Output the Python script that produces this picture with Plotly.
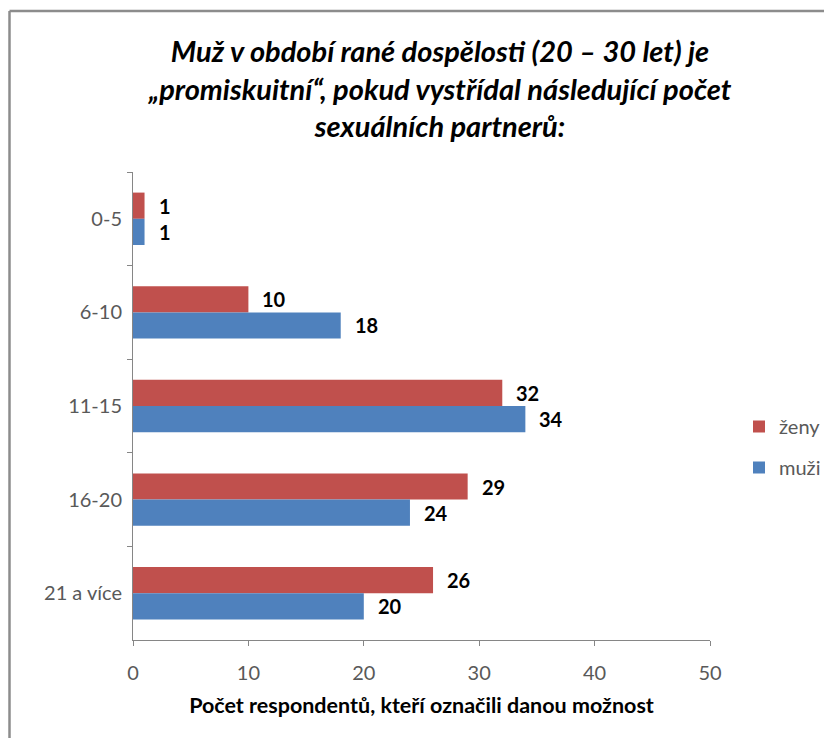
import plotly.graph_objects as go

# Data
CATEGORIES = ['0-5', '6-10', '11-15', '16-20', '21 a více']
ZENY = [1, 10, 32, 29, 26]
MUZI = [1, 18, 34, 24, 20]

RED = '#C0504D'
BLUE = '#4F81BD'
FONT = 'Lato'

# stránka má okraj 8 px, souřadnice jsou posunuté o 8 px
W, H = 832, 730
L, T, B = 125, 164, 98
R = W - 702
PW, PH = W - L - R, H - T - B


def px(x):
    return (x - L) / PW


def py(y):
    return (H - B - y) / PH


fig = go.Figure()
fig.add_trace(go.Bar(
    y=CATEGORIES, x=ZENY, name='ženy', orientation='h',
    marker=dict(color=RED, line=dict(width=0)), legendgroup='z'
))
fig.add_trace(go.Bar(
    y=CATEGORIES, x=MUZI, name='muži', orientation='h',
    marker=dict(color=BLUE, line=dict(width=0)), legendgroup='m'
))

# popisky hodnot
for cat, v in zip(CATEGORIES, ZENY):
    fig.add_annotation(x=v, y=cat, text=f'<b>{v}</b>', showarrow=False,
                       xanchor='left', yanchor='middle', xshift=12, yshift=13,
                       font=dict(family=FONT, size=20, color='#000000'))
for cat, v in zip(CATEGORIES, MUZI):
    fig.add_annotation(x=v, y=cat, text=f'<b>{v}</b>', showarrow=False,
                       xanchor='left', yanchor='middle', xshift=12, yshift=-13,
                       font=dict(family=FONT, size=20, color='#000000'))

# rámeček
fig.add_shape(type='line', xref='paper', yref='paper',
              x0=px(1.5), y0=py(H), x1=px(1.5), y1=py(3),
              line=dict(color='#8c8c8c', width=2.5))
fig.add_shape(type='line', xref='paper', yref='paper',
              x0=px(1.5), y0=py(3), x1=px(W), y1=py(3),
              line=dict(color='#8c8c8c', width=2.5))

fig.update_layout(
    title=dict(
        text='<b><i>Muž v období rané dospělosti (20 – 30 let) je<br>'
             '„promiskuitní“, pokud vystřídal následující počet<br>'
             'sexuálních partnerů:</i></b>',
        x=432 / W, xanchor='center', y=1 - 54 / H, yanchor='top',
        font=dict(family=FONT, size=29, color='#000000')
    ),
    barmode='group',
    bargap=0.44,
    bargroupgap=0,
    width=W, height=H,
    margin=dict(l=L, r=R, t=T, b=B),
    plot_bgcolor='white',
    paper_bgcolor='white',
    font=dict(family=FONT, size=20, color='#595959'),
    xaxis=dict(
        range=[0, 50], dtick=10, showgrid=False, zeroline=False,
        showline=True, linecolor='#868686', linewidth=1,
        ticks='outside', ticklen=5, tickcolor='#868686',
        ticklabelstandoff=10,
        tickfont=dict(family=FONT, size=20, color='#595959'),
        title=dict(text='<b>Počet respondentů, kteří označili danou možnost</b>',
                   font=dict(family=FONT, size=21.5, color='#000000'), standoff=14)
    ),
    yaxis=dict(
        autorange='reversed', showgrid=False,
        showline=True, linecolor='#868686', linewidth=1,
        ticks='outside', ticklen=5, tickcolor='#868686', tickson='boundaries',
        ticklabelstandoff=6,
        tickfont=dict(family=FONT, size=20, color='#595959')
    ),
    legend=dict(
        x=px(731), y=py(439), xanchor='left', yanchor='middle',
        font=dict(family=FONT, size=20, color='#595959'),
        tracegroupgap=12, bgcolor='rgba(0,0,0,0)'
    ),
)

fig.write_html('out.html')
